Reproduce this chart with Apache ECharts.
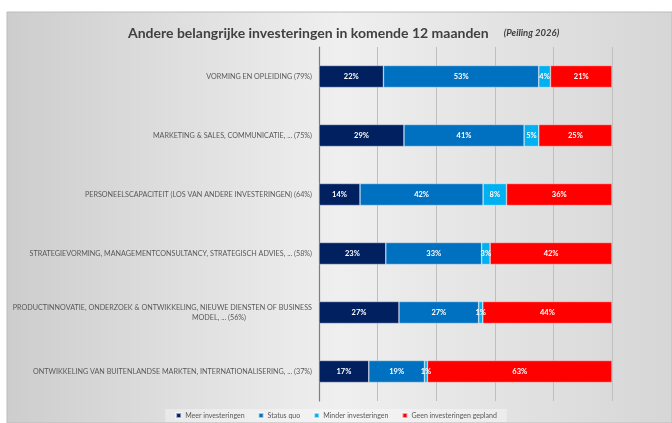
<!DOCTYPE html>
<html>
<head>
<meta charset="utf-8">
<script src="https://cdn.jsdelivr.net/npm/echarts@6/dist/echarts.min.js"></script>
<style>
  html, body { margin: 0; padding: 0; background: #fff; }
  #chart { width: 672px; height: 423px; }
</style>
</head>
<body>
<div id="chart"></div>
<script>
// categorieën (van boven naar beneden)
const categories = [
  'VORMING EN OPLEIDING (79%)',
  'MARKETING & SALES, COMMUNICATIE, ... (75%)',
  'PERSONEELSCAPACITEIT (LOS VAN ANDERE INVESTERINGEN) (64%)',
  'STRATEGIEVORMING, MANAGEMENTCONSULTANCY, STRATEGISCH ADVIES, ... (58%)',
  'PRODUCTINNOVATIE, ONDERZOEK & ONTWIKKELING, NIEUWE DIENSTEN OF BUSINESS\nMODEL, ... (56%)',
  'ONTWIKKELING VAN BUITENLANDSE MARKTEN, INTERNATIONALISERING, ... (37%)'
]
const seriesNames = ['Meer investeringen', 'Status quo', 'Minder investeringen', 'Geen investeringen gepland']
const meer = [22, 29, 14, 22.8, 27.3, 17]
const statusQuo = [53, 41, 42, 32.7, 27.2, 19]
const minder = [4, 5, 8, 2.9, 1.4, 1]
const geen = [21, 25, 36, 41.6, 44.1, 63]
const colors = ['#002060', '#0070C0', '#00B0F0', '#FF0000']

const chart = echarts.init(document.getElementById('chart'))
const font = 'Lato, "Open Sans", sans-serif'

const values = [meer, statusQuo, minder, geen]
const series = values.map((d, i) => ({
  name: seriesNames[i],
  type: 'bar',
  stack: 'total',
  barWidth: 22,
  data: d,
  itemStyle: { color: colors[i], borderColor: 'rgba(255,255,255,0.6)', borderWidth: 0.6 },
  label: {
    show: true,
    position: 'inside',
    color: '#fff',
    fontFamily: font,
    fontWeight: 'bold',
    fontSize: 7.5,
    formatter: p => Math.round(p.value) + '%'
  }
}))

chart.setOption({
  backgroundColor: '#fff',
  animation: false,
  graphic: [{
    type: 'rect',
    z: -10,
    shape: { x: 7, y: 12, width: 665, height: 411 },
    style: {
      fill: new echarts.graphic.LinearGradient(0, 0, 1, 0, [
        { offset: 0, color: '#cdcdcd' },
        { offset: 0.5, color: '#efefef' },
        { offset: 1, color: '#d6d6d6' }
      ]),
      stroke: '#bcbcbc',
      lineWidth: 1
    }
  }],
  title: {
    text: '{a|Andere belangrijke investeringen in komende 12 maanden}   {b|(Peiling 2026)}',
    left: 123,
    top: 19,
    textStyle: {
      rich: {
        a: { fontFamily: font, fontWeight: 'bold', fontSize: 14, color: '#404040' },
        b: { fontFamily: font, fontWeight: 'bold', fontStyle: 'italic', fontSize: 9.5, color: '#404040' }
      }
    }
  },
  legend: {
    bottom: 1,
    left: 'center',
    itemWidth: 5,
    itemHeight: 5,
    itemGap: 13,
    icon: 'rect',
    padding: [3, 10],
    backgroundColor: 'rgba(255,255,255,0.35)',
    textStyle: { fontFamily: font, fontSize: 7, color: '#595959', padding: [0, 0, 0, -1] },
    data: seriesNames
  },
  grid: { left: 319, right: 60, top: 47, bottom: 22 },
  xAxis: {
    type: 'value',
    min: 0,
    max: 100,
    interval: 20,
    axisLabel: { show: false },
    axisLine: { show: false },
    axisTick: { show: false },
    splitLine: { lineStyle: { color: '#bfbfbf', width: 1 } }
  },
  yAxis: {
    type: 'category',
    inverse: true,
    data: categories,
    axisTick: { show: false },
    axisLine: { lineStyle: { color: '#7f7f7f', width: 1.2 } },
    axisLabel: {
      margin: 7,
      fontFamily: font,
      fontSize: 7.2,
      color: '#595959',
      lineHeight: 10,
      // tweede regel van een afgebroken label iets naar links, zoals in Excel
      formatter: v => {
        const parts = v.split('\n')
        if (parts.length < 2) return v
        return '{a|' + parts[0] + '}\n{a|' + parts[1] + '}{s| }'
      },
      rich: {
        a: { fontFamily: font, fontSize: 7.2, color: '#595959', lineHeight: 10 },
        s: { fontSize: 7.2, lineHeight: 10, width: 66 }
      }
    }
  },
  series: series
})
</script>
</body>
</html>
